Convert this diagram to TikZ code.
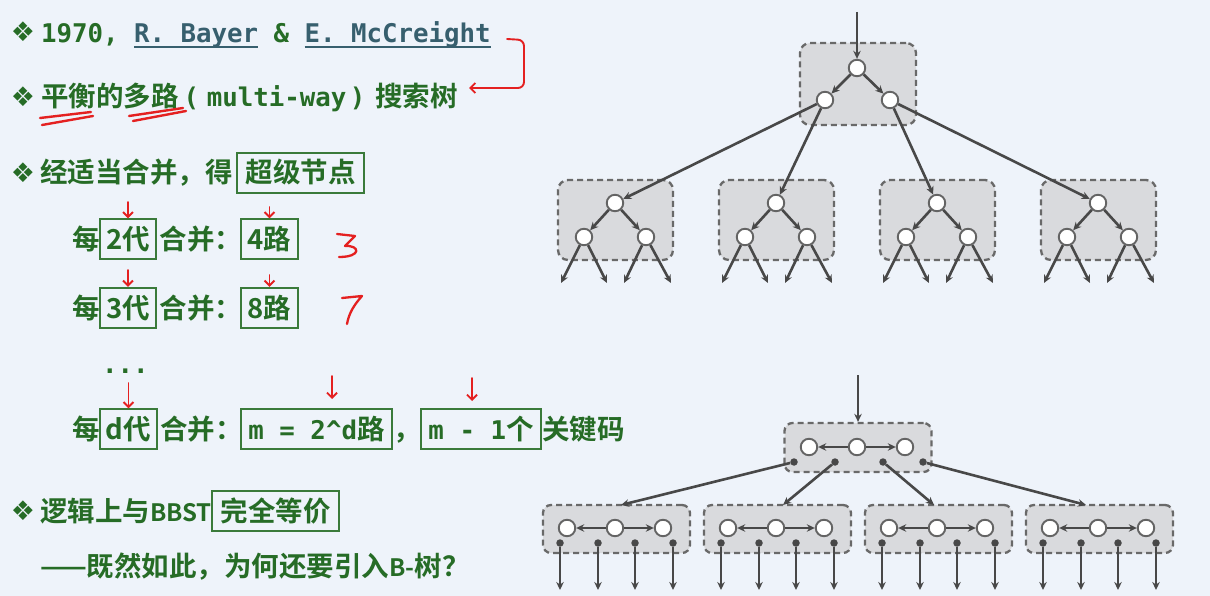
\documentclass[tikz,border=0pt]{standalone}
\usepackage{fontspec}
\usetikzlibrary{arrows.meta}
\setmainfont{DejaVu Sans}
\newfontfamily\cjkfont{Noto Sans CJK SC}[UprightFont={* Bold}]
\newfontfamily\monofont{DejaVu Sans Mono}[UprightFont={* Bold}]
\newfontfamily\symfont{DejaVu Sans}

\definecolor{bg}{RGB}{238,243,250}
\definecolor{ink}{RGB}{38,108,38}
\definecolor{boxline}{RGB}{58,122,58}
\definecolor{namecol}{RGB}{55,95,110}
\definecolor{penred}{RGB}{228,32,32}
\definecolor{edgecol}{RGB}{72,72,72}
\definecolor{keyline}{RGB}{100,100,100}
\definecolor{sbfill}{RGB}{217,218,221}
\definecolor{sbline}{RGB}{105,105,105}

\newcommand\zh[1]{{\cjkfont\fontsize{27.5}{30}\selectfont #1}}
\newcommand\zhs[1]{{\cjkfont\fontsize{24}{30}\selectfont #1}}
\newcommand\mn[1]{{\monofont\fontsize{25.75}{30}\selectfont #1}}
\newcommand\person[1]{{\color{namecol}\setbox0\hbox{#1}\rlap{\rule[-5pt]{\wd0}{1.5pt}}\box0}}

\tikzset{
  txt/.style={inner sep=0, outer sep=0, text=ink, anchor=base west},
  zbox/.style={draw=boxline, line width=1.8pt, inner sep=0, text=ink,
    minimum height=40pt, text height=24pt, text depth=3.5pt},
  bullet/.style={inner sep=0, text=ink, font=\symfont\fontsize{27}{27}\selectfont},
  redpen/.style={draw=penred, line width=1.9pt, line cap=round, line join=round},
  redarrow/.style={redpen, -{Straight Barb[length=5pt,width=10pt]}},
  sbox/.style={draw=sbline, dash pattern=on 6pt off 4pt, line width=2.3pt,
    fill=sbfill, inner sep=0},
  kn/.style={circle, draw=keyline, fill=white, line width=1.9pt, minimum size=16.5pt, inner sep=0},
  kdot/.style={circle, fill=edgecol, minimum size=7.5pt, inner sep=0},
  edge/.style={draw=edgecol, line width=2.6pt, -{Stealth[length=8pt,width=7.5pt]}},
}

\begin{document}
\begin{tikzpicture}[x=1pt,y=-1pt]
\useasboundingbox (0,0) rectangle (1210,596);
\fill[bg] (0,0) rectangle (1210,596);

% ---------- bullets ----------
\node[bullet] (d1) at (23,32) {❖};
\node[bullet] (d2) at (23,97) {❖};
\node[bullet] (d3) at (23,173) {❖};
\node[bullet] (d7) at (23,511) {❖};

% ---------- text lines ----------
\node[txt] (t1) at (41,43) {\mn{1970, \person{R. Bayer} \& \person{E. McCreight}}};
\node[txt] (t2) at (41,107) {\zh{平衡的多路}\hspace{5pt}\mn{(}\hspace{8pt}\mn{multi-way}\hspace{3.5pt}\mn{)}\hspace{9.5pt}\zh{搜索树}};

\node[txt] (t3) at (40,183) {\zh{经适当合并，得}};
\node[zbox, minimum width=127pt] (super) at (300.5,172.75) {\zh{超级节点}};

\node[txt] (t4a) at (72,249.5) {\zh{每}};
\node[zbox, minimum width=56pt] (gen2) at (128,239.25) {\zh{2代}};
\node[txt] (t4b) at (159.5,249.5) {\zh{合并：}};
\node[zbox, minimum width=57pt] (way4) at (269.5,239.25) {\zh{4路}};

\node[txt] (t5a) at (72,318) {\zh{每}};
\node[zbox, minimum width=56pt] (gen3) at (128,307.75) {\zh{3代}};
\node[txt] (t5b) at (159.5,318) {\zh{合并：}};
\node[zbox, minimum width=57pt] (way8) at (269.5,307.75) {\zh{8路}};

\node[txt] (ell) at (102,373) {\mn{...}};

\node[txt] (t6a) at (72,439.5) {\zh{每}};
\node[zbox, minimum width=57pt] (gend) at (128.5,429.25) {\zh{d代}};
\node[txt] (t6b) at (160,439.5) {\zh{合并：}};
\node[zbox, minimum width=151pt] (waym) at (316.5,429.25) {\mn{m = 2\textasciicircum d}\zh{路}};
\node[txt] (t6c) at (393,439.5) {\zh{，}};
\node[zbox, minimum width=120pt] (keys) at (481,429.25) {\mn{m - 1}\zh{个}};
\node[txt] (t6d) at (542,439.5) {\zh{关键码}};

\node[txt] (t7) at (40,521) {\zh{逻辑上与}\zhs{BBST}};
\node[zbox, minimum width=127pt] (equiv) at (275.5,510.75) {\zh{完全等价}};

\node[txt] (t8) at (40,576) {\zh{——既然如此，为何还要引入}\zhs{B-}\zh{树？}};

% ---------- red pen marks ----------
\coordinate (ra) at (507,39);
\coordinate (rb) at (469,88);
\draw[redarrow, rounded corners=6pt] (ra) -- (524,40) -- (524,88) -- (rb);

\draw[redpen, line width=2.4pt] (40,118) -- (91,112);
\draw[redpen, line width=2.4pt] (42,125) -- (93,116);
\draw[redpen, line width=2.4pt] (129,116) -- (183,108);
\draw[redpen, line width=2.4pt] (133,121) -- (186,111);

\coordinate (ar1) at (128,202);
\coordinate (ar2) at (269.5,207);
\coordinate (ar3) at (128,270);
\coordinate (ar4) at (269.5,275);
\coordinate (ar5) at (128.5,383);
\draw[redarrow] (ar1) -- (gen2.north);
\draw[redarrow] (ar2) -- (way4.north);
\draw[redarrow] (ar3) -- (gen3.north);
\draw[redarrow] (ar4) -- (way8.north);
\draw[redarrow] (ar5) -- (gend.north);
\coordinate (ar6) at (332,376);
\coordinate (ar6e) at (332,399);
\coordinate (ar7) at (472,378);
\coordinate (ar7e) at (472,401);
\draw[redarrow] (ar6) -- (ar6e);
\draw[redarrow] (ar7) -- (ar7e);

% handwritten 3 and 7
\draw[redpen, line width=2.3pt] (337,234) -- (355,236) -- (345,246)
  .. controls (360,245) and (362,257) .. (339,257);
\draw[redpen, line width=2.3pt] (342,298) -- (362,296) .. controls (354,305) and (349,313) .. (347,324);

% ---------- upper tree: binary nodes grouped into super nodes ----------
\node[sbox, rounded corners=10pt, minimum width=116pt, minimum height=82pt] (rbox) at (858,84) {};
\foreach \i/\x in {1/615,2/776,3/937,4/1098} {
  \node[sbox, rounded corners=10pt, minimum width=115pt, minimum height=80pt] (sb\i) at (\x+0.5,220) {};
}
\node[kn] (r0) at (857,68) {};
\node[kn] (r1) at (825,100) {};
\node[kn] (r2) at (890,100) {};
\coordinate (tin) at (857,12);
\draw[edge] (tin) -- (r0);
\draw[edge] (r0) -- (r1);
\draw[edge] (r0) -- (r2);
\foreach \i/\x in {1/615,2/776,3/937,4/1098} {
  \node[kn] (a\i) at (\x,203) {};
  \node[kn] (b\i) at (\x-31,237) {};
  \node[kn] (c\i) at (\x+31,237) {};
  \coordinate (la\i) at (\x-54,283);
  \coordinate (lb\i) at (\x-8,283);
  \coordinate (lc\i) at (\x+9,283);
  \coordinate (ld\i) at (\x+56,283);
  \draw[edge] (a\i) -- (b\i);
  \draw[edge] (a\i) -- (c\i);
  \draw[edge] (b\i) -- (la\i);
  \draw[edge] (b\i) -- (lb\i);
  \draw[edge] (c\i) -- (lc\i);
  \draw[edge] (c\i) -- (ld\i);
}
\draw[edge] (r1) -- (a1);
\draw[edge] (r1) -- (a2);
\draw[edge] (r2) -- (a3);
\draw[edge] (r2) -- (a4);

% ---------- lower tree: 4-way B-tree nodes ----------
\node[sbox, rounded corners=8pt, minimum width=147pt, minimum height=49pt] (bt) at (858,447.5) {};
\foreach \i/\x in {1/543,2/704,3/865,4/1026} {
  \node[sbox, rounded corners=8pt, minimum width=147pt, minimum height=48pt] (cb\i) at (\x+73.5,529) {};
}
\coordinate (bin) at (858,375);
\draw[edge] (bin) -- (bt.north);
\node[kn] (k1) at (809,447) {};
\node[kn] (k2) at (857,447) {};
\node[kn] (k3) at (905,447) {};
\draw[edge] (k2) -- (k1);
\draw[edge] (k2) -- (k3);
\node[kdot] (p1) at (794,462) {};
\node[kdot] (p2) at (835,462) {};
\node[kdot] (p3) at (883,462) {};
\node[kdot] (p4) at (923,462) {};
\foreach \i/\x/\t in {1/543/78,2/704/79,3/865/69,4/1026/60} {
  \coordinate (in\i) at (\x+\t,505);
  \node[kn] (e\i) at (\x+24,528) {};
  \node[kn] (f\i) at (\x+72,528) {};
  \node[kn] (g\i) at (\x+120,528) {};
  \draw[edge] (f\i) -- (e\i);
  \draw[edge] (f\i) -- (g\i);
  \foreach \j/\d in {1/17,2/55,3/92,4/130} {
    \node[kdot] (q\i\j) at (\x+\d,543) {};
    \coordinate (z\i\j) at (\x+\d,590);
    \draw[edge] (q\i\j) -- (z\i\j);
  }
}
\draw[edge] (p1) -- (in1);
\draw[edge] (p2) -- (in2);
\draw[edge] (p3) -- (in3);
\draw[edge] (p4) -- (in4);

\end{tikzpicture}
\end{document}
